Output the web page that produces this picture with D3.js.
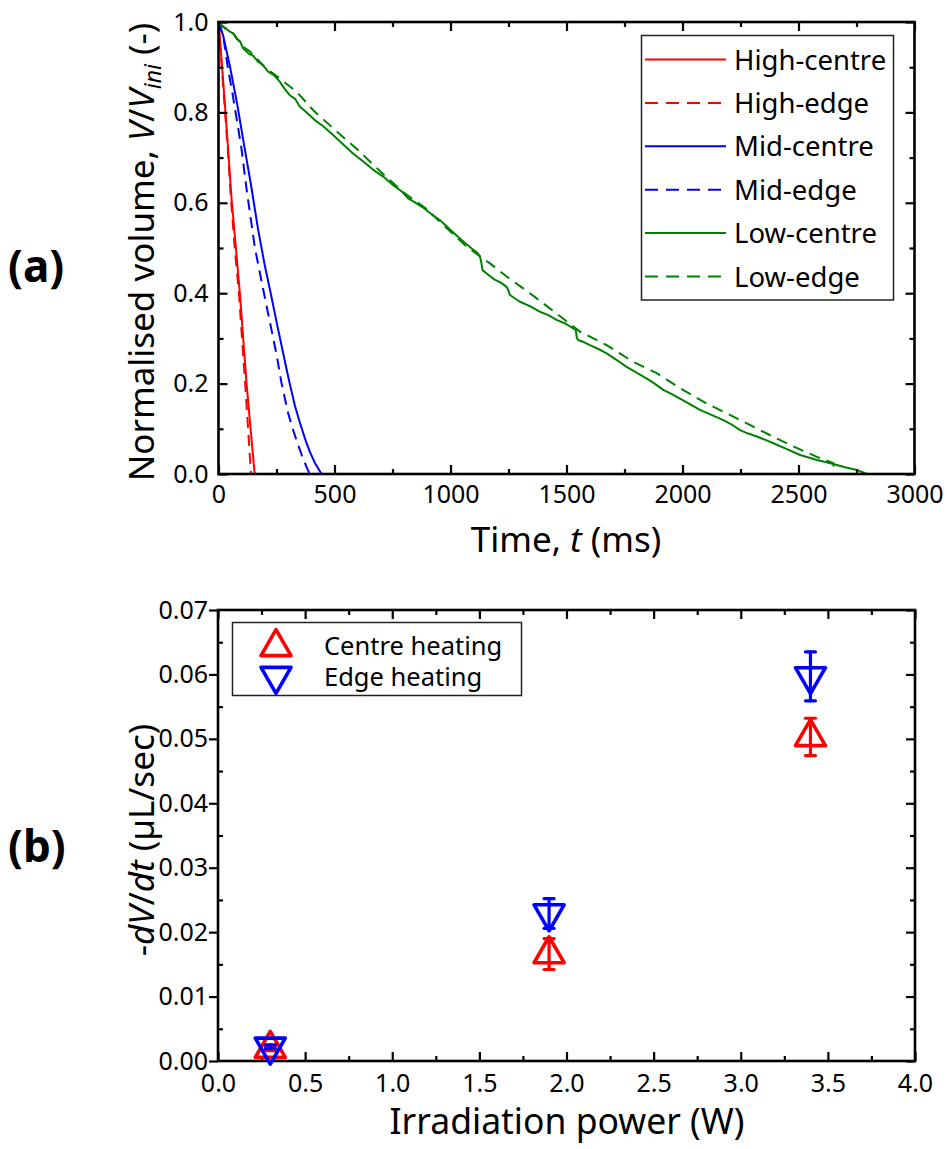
<!DOCTYPE html>
<html>
<head>
<meta charset="utf-8">
<script src="https://cdn.jsdelivr.net/npm/d3@7"></script>
<style>
  html, body { margin: 0; padding: 0; background: #fff; }
  svg { display: block; font-family: "Noto Sans", "DejaVu Sans", sans-serif; }
</style>
</head>
<body>
<svg id="fig" width="947" height="1149"></svg>
<script>
// ---------- (a) normalised volume vs time ----------
const highCentreT = [0, 5, 20, 40, 56, 75, 92, 121, 140, 156];
const highCentreV = [1.0, 0.97, 0.87, 0.73, 0.61, 0.5, 0.4, 0.2, 0.09, 0.0];

const highEdgeT = [0, 5, 20, 40, 52, 70, 88, 115, 130, 140];
const highEdgeV = [1.0, 0.965, 0.86, 0.72, 0.62, 0.5, 0.4, 0.2, 0.08, 0.0];

const midCentreT = [0, 20, 50, 80, 113, 140, 171, 200, 221, 257, 290, 307, 330, 350, 375, 393, 415, 444];
const midCentreV = [1.0, 0.97, 0.9, 0.82, 0.72, 0.64, 0.54, 0.46, 0.41, 0.32, 0.24, 0.2, 0.15, 0.115, 0.075, 0.05, 0.025, 0.0];

const midEdgeT = [0, 20, 40, 61, 99, 121, 157, 192, 228, 250, 272, 300, 320, 336, 360, 380, 393];
const midEdgeV = [1.0, 0.97, 0.9, 0.84, 0.72, 0.63, 0.5, 0.41, 0.32, 0.265, 0.2, 0.135, 0.1, 0.075, 0.04, 0.015, 0.0];

const lowCentreT = [0, 15, 30, 45, 63, 80, 92, 106, 130, 150, 171, 190, 214, 240, 264, 285, 307, 330, 350, 380, 415, 450, 494, 540,
  580, 620, 667, 710, 753, 790, 817, 850, 880, 920, 954, 990, 1019, 1060, 1098, 1115, 1127, 1132, 1138, 1160, 1190, 1215, 1242,
  1250, 1256, 1299, 1340, 1385, 1420, 1457, 1495, 1529, 1540, 1545, 1551, 1575, 1601, 1640, 1673, 1720, 1759, 1800, 1846, 1880,
  1917, 1950, 1989, 2030, 2075, 2120, 2176, 2210, 2248, 2280, 2320, 2360, 2392, 2450, 2507, 2540, 2579, 2620, 2650, 2700, 2751, 2795];
const lowCentreV = [1.0, 0.99, 0.987, 0.98, 0.975, 0.962, 0.958, 0.942, 0.93, 0.925, 0.912, 0.905, 0.89, 0.882, 0.868, 0.852, 0.838,
  0.83, 0.813, 0.8, 0.783, 0.77, 0.75, 0.728, 0.709, 0.693, 0.673, 0.658, 0.639, 0.625, 0.61, 0.6, 0.59, 0.574, 0.562, 0.545,
  0.531, 0.512, 0.496, 0.49, 0.481, 0.47, 0.451, 0.442, 0.43, 0.424, 0.414, 0.405, 0.396, 0.381, 0.372, 0.359, 0.352, 0.341,
  0.333, 0.322, 0.318, 0.3, 0.296, 0.292, 0.285, 0.276, 0.267, 0.251, 0.237, 0.225, 0.211, 0.2, 0.186, 0.178, 0.167, 0.155,
  0.142, 0.132, 0.119, 0.11, 0.097, 0.09, 0.083, 0.075, 0.068, 0.055, 0.042, 0.037, 0.031, 0.026, 0.022, 0.015, 0.009, 0.0];

const lowEdgeT = [0, 30, 63, 106, 135, 200, 264, 336, 408, 494, 552, 609, 700, 800, 900, 954, 1069, 1170, 1242, 1342, 1457, 1558,
  1673, 1788, 1889, 1989, 2104, 2219, 2334, 2464, 2579, 2650, 2655];
const lowEdgeV = [1.0, 0.985, 0.975, 0.945, 0.935, 0.9, 0.875, 0.846, 0.805, 0.765, 0.739, 0.713, 0.668, 0.622, 0.585, 0.558, 0.503,
  0.466, 0.437, 0.4, 0.355, 0.315, 0.285, 0.248, 0.223, 0.19, 0.156, 0.127, 0.097, 0.064, 0.038, 0.024, 0.0];

const seriesNamesA = ["High-centre", "High-edge", "Mid-centre", "Mid-edge", "Low-centre", "Low-edge"];
const timeTicks = [0, 500, 1000, 1500, 2000, 2500, 3000];
const volumeTicks = [0.0, 0.2, 0.4, 0.6, 0.8, 1.0];

// ---------- (b) evaporation rate vs irradiation power ----------
const powerW = [0.3, 1.9, 3.4];
const centreRate = [0.0019, 0.0166, 0.0503];
const centreErr = [0.0003, 0.0024, 0.0029];
const edgeRate = [0.0022, 0.0229, 0.0597];
const edgeErr = [0.0003, 0.0023, 0.0038];
const seriesNamesB = ["Centre heating", "Edge heating"];
const powerTicks = [0.0, 0.5, 1.0, 1.5, 2.0, 2.5, 3.0, 3.5, 4.0];
const rateTicks = [0.00, 0.01, 0.02, 0.03, 0.04, 0.05, 0.06, 0.07];

const RED = "#ff0000", BLUE = "#0000ff", GREEN = "#008000";
const svg = d3.select("#fig");

function zip(ts, vs) { return ts.map((t, i) => [t, vs[i]]); }

// frame + ticks helper: major/minor ticks on all four sides
function drawFrame(g, x, y, opt) {
  const [x0, x1] = x.range(), [y0, y1] = y.range();
  // bottom
  g.append("g").attr("transform", `translate(0,${y0})`)
    .call(d3.axisBottom(x).tickValues(opt.xMinor).tickSize(-5).tickFormat(""));
  g.append("g").attr("transform", `translate(0,${y0})`).attr("class", "lab")
    .call(d3.axisBottom(x).tickValues(opt.xMajor).tickSize(-9).tickPadding(opt.xPad).tickFormat(opt.xFmt));
  // top
  g.append("g").attr("transform", `translate(0,${y1})`)
    .call(d3.axisTop(x).tickValues(opt.xMinor).tickSize(-5).tickFormat(""));
  g.append("g").attr("transform", `translate(0,${y1})`)
    .call(d3.axisTop(x).tickValues(opt.xMajor).tickSize(-9).tickFormat(""));
  // left
  g.append("g").attr("transform", `translate(${x0},0)`)
    .call(d3.axisLeft(y).tickValues(opt.yMinor).tickSize(-5).tickFormat(""));
  g.append("g").attr("transform", `translate(${x0},0)`).attr("class", "lab")
    .call(d3.axisLeft(y).tickValues(opt.yMajor).tickSize(opt.yMajorLeft).tickPadding(opt.yPad).tickFormat(opt.yFmt));
  // right
  g.append("g").attr("transform", `translate(${x1},0)`)
    .call(d3.axisRight(y).tickValues(opt.yMinor).tickSize(-5).tickFormat(""));
  g.append("g").attr("transform", `translate(${x1},0)`)
    .call(d3.axisRight(y).tickValues(opt.yMajor).tickSize(-9).tickFormat(""));
  g.selectAll(".domain").remove();
  g.selectAll(".tick line").attr("stroke", "#000").attr("stroke-width", 2.2);
  g.selectAll(".lab text").attr("font-size", 25).attr("fill", "#000")
    .attr("font-family", "'Noto Sans', sans-serif");
  g.append("rect").attr("x", x0).attr("y", y1).attr("width", x1 - x0).attr("height", y0 - y1)
    .attr("fill", "none").attr("stroke", "#000").attr("stroke-width", 2.6);
}

// ===== panel (a) =====
const xA = d3.scaleLinear().domain([0, 3000]).range([218.5, 914.5]);
const yA = d3.scaleLinear().domain([0, 1]).range([474, 22]);
const gA = svg.append("g");

const line = d3.line().x(d => xA(d[0])).y(d => yA(d[1]));
const curvesA = [
  { name: seriesNamesA[0], data: zip(highCentreT, highCentreV), color: RED, dash: null },
  { name: seriesNamesA[1], data: zip(highEdgeT, highEdgeV), color: RED, dash: "11,7" },
  { name: seriesNamesA[2], data: zip(midCentreT, midCentreV), color: BLUE, dash: null },
  { name: seriesNamesA[3], data: zip(midEdgeT, midEdgeV), color: BLUE, dash: "11,7" },
  { name: seriesNamesA[4], data: zip(lowCentreT, lowCentreV), color: GREEN, dash: null },
  { name: seriesNamesA[5], data: zip(lowEdgeT, lowEdgeV), color: GREEN, dash: "11,7" }
];
const plotA = gA.append("g");
// edge (dashed) curves first, centre curves on top
[1, 0, 3, 2, 5, 4].forEach(i => {
  const c = curvesA[i];
  plotA.append("path").datum(c.data).attr("d", line)
    .attr("fill", "none").attr("stroke", c.color).attr("stroke-width", 2)
    .attr("stroke-dasharray", c.dash).attr("stroke-linejoin", "round");
});

drawFrame(gA, xA, yA, {
  xMajor: timeTicks, xMinor: d3.range(250, 3000, 500), xPad: 11, xFmt: d3.format("d"),
  yMajor: volumeTicks, yMinor: [0.1, 0.3, 0.5, 0.7, 0.9], yPad: 10, yFmt: d3.format(".1f"),
  yMajorLeft: -9
});

// legend (a)
const legA = gA.append("g");
legA.append("rect").attr("x", 641.5).attr("y", 35.5).attr("width", 252).attr("height", 264.5)
  .attr("fill", "#fff").attr("stroke", "#222").attr("stroke-width", 1.5);
curvesA.forEach((c, i) => {
  const yy = 59.5 + i * 43.4;
  legA.append("line").attr("x1", 645).attr("x2", 726).attr("y1", yy).attr("y2", yy)
    .attr("stroke", c.color).attr("stroke-width", 2).attr("stroke-dasharray", c.dash ? "13,8" : null);
  legA.append("text").attr("x", 734).attr("y", yy + 10).attr("font-size", 27.5).text(c.name);
});

// axis titles (a)
gA.append("text").attr("x", 566).attr("y", 552).attr("text-anchor", "middle").attr("font-size", 35)
  .call(t => {
    t.append("tspan").text("Time, ");
    t.append("tspan").attr("font-style", "italic").text("t");
    t.append("tspan").text(" (ms)");
  });
gA.append("text").attr("transform", "translate(154,252) rotate(-90)").attr("text-anchor", "middle").attr("font-size", 35)
  .call(t => {
    t.append("tspan").text("Normalised volume, ");
    t.append("tspan").attr("font-style", "italic").text("V");
    t.append("tspan").text("/");
    t.append("tspan").attr("font-style", "italic").text("V");
    t.append("tspan").attr("font-style", "italic").attr("font-size", 23).attr("dy", 7).text("ini");
    t.append("tspan").attr("dy", -7).text(" (-)");
  });
svg.append("text").attr("x", 8).attr("y", 282).attr("font-size", 44).attr("font-weight", "bold").text("(a)");

// ===== panel (b) =====
const xB = d3.scaleLinear().domain([0, 4]).range([218, 915]);
const yB = d3.scaleLinear().domain([0, 0.07]).range([1061, 610]);
const gB = svg.append("g");

drawFrame(gB, xB, yB, {
  xMajor: powerTicks, xMinor: d3.range(0.25, 4, 0.5), xPad: 13, xFmt: d3.format(".1f"),
  yMajor: rateTicks, yMinor: d3.range(0.005, 0.07, 0.01), yPad: 1, yFmt: d3.format(".2f"),
  yMajorLeft: 9
});

const triSize = Math.sqrt(3) / 4 * 30 * 30;
const tri = d3.symbol().type(d3.symbolTriangle).size(triSize);
const plotB = gB.append("g");
function drawSeries(vals, errs, color, flip) {
  powerW.forEach((p, i) => {
    const cx = xB(p), cy = yB(vals[i]);
    const yt = yB(vals[i] + errs[i]), yb = yB(vals[i] - errs[i]);
    const eg = plotB.append("g").attr("stroke", color).attr("stroke-width", 3.2).attr("stroke-linecap", "round");
    eg.append("line").attr("x1", cx).attr("x2", cx).attr("y1", yt).attr("y2", yb);
    eg.append("line").attr("x1", cx - 5).attr("x2", cx + 5).attr("y1", yt).attr("y2", yt);
    eg.append("line").attr("x1", cx - 5).attr("x2", cx + 5).attr("y1", yb).attr("y2", yb);
    plotB.append("path").attr("d", tri)
      .attr("transform", `translate(${cx},${cy})${flip ? " rotate(180)" : ""}`)
      .attr("fill", "none").attr("stroke", color).attr("stroke-width", 3.6).attr("stroke-linejoin", "round");
  });
}
drawSeries(centreRate, centreErr, RED, false);
drawSeries(edgeRate, edgeErr, BLUE, true);

// legend (b)
const legB = gB.append("g");
legB.append("rect").attr("x", 232.5).attr("y", 622.5).attr("width", 289).attr("height", 73)
  .attr("fill", "#fff").attr("stroke", "#222").attr("stroke-width", 1.5);
[[seriesNamesB[0], RED, false, 647, 655], [seriesNamesB[1], BLUE, true, 676, 686]].forEach(([name, col, flip, yy, ty]) => {
  legB.append("path").attr("d", tri).attr("transform", `translate(276,${yy})${flip ? " rotate(180)" : ""}`)
    .attr("fill", "none").attr("stroke", col).attr("stroke-width", 3.6).attr("stroke-linejoin", "round");
  legB.append("text").attr("x", 324).attr("y", ty).attr("font-size", 25.5).text(name);
});

// axis titles (b)
gB.append("text").attr("x", 567).attr("y", 1134).attr("text-anchor", "middle").attr("font-size", 35.5)
  .text("Irradiation power (W)");
gB.append("text").attr("transform", "translate(154,840) rotate(-90)").attr("text-anchor", "middle").attr("font-size", 35)
  .call(t => {
    t.append("tspan").text("-");
    t.append("tspan").attr("font-style", "italic").text("dV");
    t.append("tspan").text("/");
    t.append("tspan").attr("font-style", "italic").text("dt");
    t.append("tspan").text(" (µL/sec)");
  });
svg.append("text").attr("x", 8).attr("y", 862).attr("font-size", 44).attr("font-weight", "bold").text("(b)");
</script>
</body>
</html>
